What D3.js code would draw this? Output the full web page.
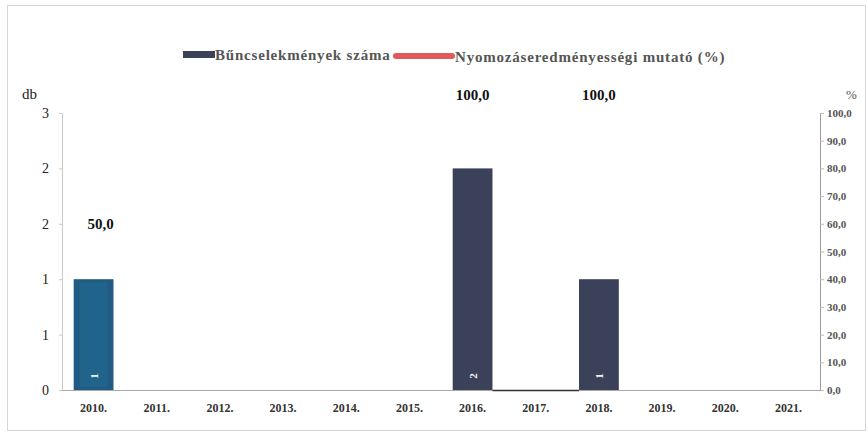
<!DOCTYPE html>
<html><head><meta charset="utf-8">
<script src="https://cdn.jsdelivr.net/npm/d3@7"></script>
<style>body{margin:0;background:#fff}svg{display:block}</style>
</head><body>
<svg id="c" width="867" height="434"></svg>
<script>
const years = ["2010.","2011.","2012.","2013.","2014.","2015.","2016.","2017.","2018.","2019.","2020.","2021."];
const crimes = [1,0,0,0,0,0,2,0,1,0,0,0];
const clearance = [50,null,null,null,null,null,100,null,100,null,null,null];
const leftTicks = [0,0.5,1,1.5,2,2.5];
const rightTicks = [0,10,20,30,40,50,60,70,80,90,100];
const seriesNames = ["Bűncselekmények száma","Nyomozáseredményességi mutató (%)"];

const svg = d3.select("#c");
const m = {l:62, r:820, t:113, b:390};
const serif = "'Liberation Serif','DejaVu Serif',serif";

svg.append("rect").attr("x",7.5).attr("y",5.5).attr("width",858).attr("height",425)
  .attr("fill","#fff").attr("stroke","#d6d6d6");

const x = d3.scaleBand().domain(years).range([m.l,m.r]).paddingInner(0.37).paddingOuter(0.185);
const yL = d3.scaleLinear().domain([0,2.5]).range([m.b,m.t]);
const yR = d3.scaleLinear().domain([0,100]).range([m.b,m.t]);

// bars
const barColor = i => i===0 ? "#215a82" : "#3a4159";
crimes.forEach((v,i)=>{
  if(!v) return;
  const g = svg.append("g");
  g.append("rect").attr("x",x(years[i])).attr("y",yL(v)).attr("width",x.bandwidth())
    .attr("height",yL(0)-yL(v)).attr("fill",barColor(i));
  if(i===0){
    g.append("rect").attr("x",x(years[i])+6).attr("y",yL(v)+3).attr("width",x.bandwidth()-12)
      .attr("height",yL(0)-yL(v)-6).attr("fill","#1f6a93").attr("opacity",0.6);
  }
  const cx = x(years[i])+x.bandwidth()/2;
  svg.append("text").attr("transform",`translate(${cx+4},${yL(0)-14}) rotate(-90)`)
    .attr("text-anchor","middle").attr("fill","#f2f2f2").attr("font-family",serif)
    .attr("font-weight","bold").attr("font-size",11).text(v);
});

// axes
const axL = svg.append("g").attr("transform",`translate(${m.l},0)`)
  .call(d3.axisLeft(yL).tickValues(leftTicks).tickSize(3).tickFormat(d=>Math.floor(d+0.5)));
axL.select(".domain").attr("stroke","#c8c8c8");
axL.selectAll(".tick line").attr("stroke","#c8c8c8");
axL.selectAll("text").attr("font-family",serif).attr("font-size",14).attr("fill","#222").attr("x",-13);

const axR = svg.append("g").attr("transform",`translate(${m.r},0)`)
  .call(d3.axisRight(yR).tickValues(rightTicks).tickSize(4).tickFormat(d=>d3.format(".1f")(d).replace(".",",")));
axR.select(".domain").attr("stroke","#9a9a9a");
axR.selectAll(".tick line").attr("stroke","#bbb");
axR.selectAll("text").attr("font-family",serif).attr("font-size",11).attr("font-weight","bold").attr("fill","#555").attr("x",7);

svg.append("line").attr("x1",m.l).attr("x2",m.r).attr("y1",m.b+0.5).attr("y2",m.b+0.5).attr("stroke","#a8a8a8");
// darker baseline fragment around 2017
svg.append("line").attr("x1",x("2016.")+x.bandwidth()).attr("x2",x("2018.")).attr("y1",m.b+0.5).attr("y2",m.b+0.5)
  .attr("stroke","#333").attr("stroke-width",1.5);

svg.append("g").selectAll("text").data(years).join("text")
  .attr("x",d=>x(d)+x.bandwidth()/2).attr("y",412).attr("text-anchor","middle")
  .attr("font-family",serif).attr("font-weight","bold").attr("font-size",12).attr("fill","#333").text(d=>d);

// line series (no markers)
const line = d3.line().defined(d=>d!=null).x((d,i)=>x(years[i])+x.bandwidth()/2).y(d=>yR(d));
svg.append("path").datum(clearance).attr("d",line).attr("fill","none").attr("stroke","#e05a5a").attr("stroke-width",3);

// data labels
clearance.forEach((v,i)=>{
  if(v==null) return;
  svg.append("text").attr("x",x(years[i])+x.bandwidth()/2+(i===0?7:0)).attr("y",yR(v)-(i===0?23:13))
    .attr("text-anchor","middle").attr("font-family",serif).attr("font-weight","bold")
    .attr("font-size",15).attr("fill","#111").text(d3.format(".1f")(v).replace(".",","));
});

// axis titles
svg.append("text").attr("x",22).attr("y",99).attr("font-family",serif).attr("font-size",15).attr("fill","#222").text("db");
svg.append("text").attr("x",846).attr("y",99).attr("font-family",serif).attr("font-size",13).attr("fill","#555").text("%");

// legend
const lg = svg.append("g").attr("font-family",serif).attr("font-weight","bold").attr("font-size",15)
  .attr("letter-spacing",0.8).attr("fill","#555");
lg.append("rect").attr("x",183).attr("y",51).attr("width",32).attr("height",7).attr("fill","#3a4159");
lg.append("text").attr("x",215).attr("y",60).text(seriesNames[0]);
lg.append("line").attr("x1",396).attr("x2",452).attr("y1",56).attr("y2",56).attr("stroke","#e05a5a").attr("stroke-width",6).attr("stroke-linecap","round");
lg.append("text").attr("x",455).attr("y",62).text(seriesNames[1]);
</script>
</body></html>
